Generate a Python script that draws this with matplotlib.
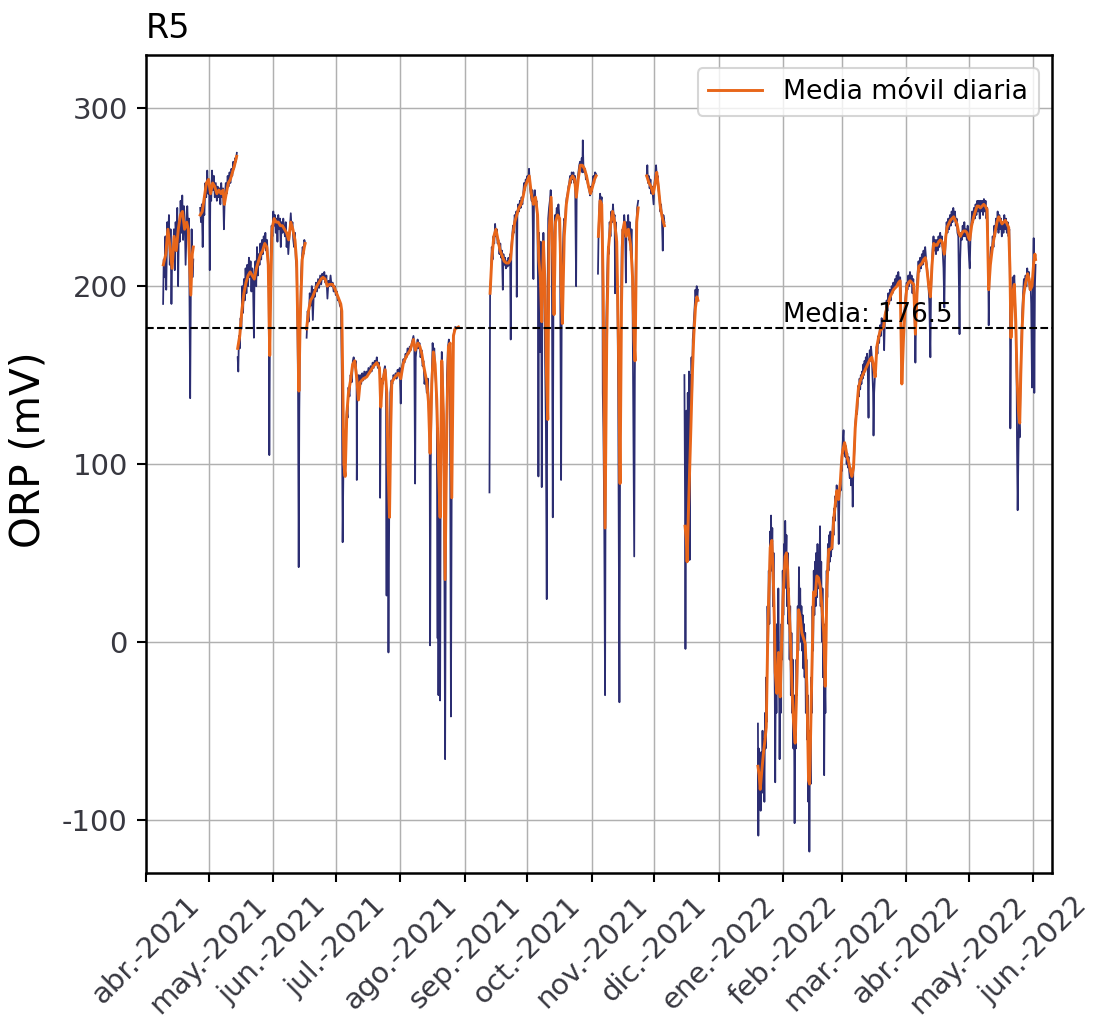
import pandas as pd
import matplotlib
matplotlib.use('Agg')
import matplotlib.pyplot as plt
import numpy as np

plt.rcParams['axes.unicode_minus'] = False

# Datos: (dias desde 2021-04-01, ORP en mV)
inicio = pd.Timestamp('2021-04-01')

raw_t1 = [(8.2, 190), (8.5, 215), (8.9, 205), (9.3, 228), (9.7, 198), (10.2, 236), (10.6, 225),
          (11.0, 240), (11.4, 212), (11.8, 232), (12.2, 190), (12.6, 220), (13.0, 214), (13.4, 232),
          (13.8, 209), (14.2, 236), (14.6, 226), (15.0, 244), (15.4, 200), (15.8, 236), (16.2, 225),
          (16.6, 248), (17.0, 230), (17.4, 251), (17.8, 226), (18.2, 245), (18.6, 238), (19.0, 212),
          (19.4, 228), (19.8, 245), (20.2, 232), (20.6, 238), (21.0, 170), (21.2, 137), (21.5, 195),
          (21.9, 232), (22.3, 205), (22.7, 215)]
raw_t2 = [(26.0, 244), (26.4, 236), (26.8, 246), (27.2, 222), (27.6, 245), (28.0, 240), (28.5, 258),
          (28.9, 250), (29.4, 265), (29.8, 252), (30.3, 260), (30.6, 209), (30.9, 255), (31.3, 248),
          (31.7, 265), (32.1, 254), (32.6, 262), (33.0, 250), (33.5, 258), (34.0, 248), (34.4, 256),
          (34.8, 250), (35.3, 255), (35.7, 246), (36.1, 258), (36.5, 250), (37.0, 255), (37.4, 232),
          (37.8, 250), (38.3, 258), (38.7, 252), (39.2, 262), (39.6, 256), (40.1, 264), (40.5, 258),
          (41.0, 266), (41.4, 262), (41.9, 270), (42.3, 266), (42.8, 272), (43.2, 270), (43.6, 275)]
raw_t3 = [(44.0, 160), (44.3, 152), (44.6, 172), (45.0, 165), (45.4, 182), (45.8, 176), (46.2, 200),
          (46.6, 185), (47.0, 204), (47.4, 192), (47.8, 210), (48.2, 196), (48.6, 212), (49.0, 200),
          (49.4, 216), (49.8, 205), (50.2, 214), (50.6, 197), (51.0, 210), (51.4, 200), (51.8, 171),
          (52.1, 208), (52.5, 214), (52.9, 200), (53.3, 222), (53.7, 206), (54.1, 218), (54.5, 212),
          (54.9, 224), (55.3, 215), (55.7, 226), (56.1, 218), (56.5, 228), (56.9, 222), (57.3, 230),
          (57.7, 220), (58.1, 226), (58.5, 214), (58.9, 200), (59.2, 105), (59.5, 175), (59.9, 220),
          (60.3, 234), (60.7, 228), (61.1, 242), (61.5, 234), (61.9, 240), (62.3, 230), (62.7, 238),
          (63.1, 225), (63.5, 240), (63.9, 232), (64.3, 238), (64.7, 222), (65.1, 236), (65.5, 230),
          (65.9, 238), (66.3, 232), (66.7, 228), (67.1, 236), (67.5, 222), (67.9, 230), (68.3, 218),
          (68.7, 226), (69.1, 235), (69.5, 241), (69.9, 232), (70.3, 236), (70.7, 226), (71.1, 222),
          (71.5, 230), (71.9, 215), (72.3, 210), (72.7, 180), (73.0, 140), (73.3, 42), (73.6, 130),
          (74.0, 178), (74.4, 205), (74.8, 215), (75.2, 222), (75.6, 218), (76.0, 226), (76.4, 224)]
raw_t4 = [(77.1, 171), (77.6, 186), (78.1, 180), (78.6, 196), (79.1, 189), (79.6, 200), (80.1, 181),
          (80.6, 198), (81.1, 194), (81.6, 202), (82.1, 197), (82.6, 204), (83.1, 199), (83.6, 206),
          (84.1, 201), (84.6, 207), (85.1, 204), (85.6, 208), (86.1, 202), (86.6, 206), (87.1, 193),
          (87.6, 203), (88.1, 200), (88.6, 206), (89.1, 200), (89.6, 202), (90.1, 197), (90.6, 200),
          (91.1, 195), (91.6, 197), (92.1, 192), (92.6, 193), (93.1, 189), (93.6, 188), (94.0, 150),
          (94.4, 56), (94.8, 100), (95.3, 118), (95.8, 112), (96.4, 130), (96.8, 126), (97.2, 143),
          (97.7, 138), (98.2, 150), (98.8, 146), (99.3, 158), (99.7, 160), (100.2, 155), (100.7, 158),
          (101.1, 148), (101.2, 91), (101.4, 140), (101.9, 150), (102.4, 144), (102.8, 150),
          (103.3, 145), (103.8, 151), (104.3, 147), (104.8, 152), (105.3, 148), (105.8, 152),
          (106.3, 150), (106.8, 154), (107.3, 151), (107.8, 155), (108.3, 152), (108.8, 157),
          (109.3, 154), (109.8, 158), (110.3, 156), (110.8, 160), (111.3, 154), (111.8, 157),
          (112.3, 150), (112.4, 81), (112.7, 135), (113.2, 148), (113.7, 145), (114.2, 152),
          (114.7, 155), (115.2, 150), (115.5, 26), (115.7, 138), (116.0, 110), (116.4, -6), (116.8, 80),
          (117.3, 140), (117.8, 147), (118.3, 145), (118.8, 150), (119.3, 148), (119.8, 151),
          (120.3, 148), (120.8, 153), (121.3, 150), (121.8, 154), (122.3, 134), (122.6, 153),
          (123.1, 156), (123.6, 159), (124.1, 157), (124.6, 162), (125.1, 160), (125.6, 165),
          (126.1, 162), (126.6, 166), (127.1, 164), (127.6, 168), (128.0, 170), (128.4, 172),
          (128.8, 168), (129.2, 89), (129.5, 160), (130.0, 166), (130.4, 170), (130.8, 165),
          (131.3, 168), (131.8, 160), (132.3, 164), (132.8, 155), (133.2, 158), (133.7, 145),
          (134.2, 150), (134.8, 140), (135.3, 148), (135.8, 130), (136.2, 110), (136.4, -2),
          (136.7, 100), (137.2, 150), (137.6, 168), (138.0, 160), (138.4, 165), (138.8, 152),
          (139.2, 145), (139.6, 130), (140.0, 2), (140.2, 120), (140.4, -30), (140.7, 90),
          (141.2, -33), (141.6, 140), (142.0, 163), (142.4, 150), (142.8, 125), (143.2, 60),
          (143.6, -66), (144.0, 80), (144.5, 150), (145.0, 166), (145.4, 170), (145.9, 160),
          (146.4, -42), (146.8, 100), (147.2, 160), (147.6, 172), (148.0, 175), (148.5, 177)]
raw_t5 = [(164.9, 84), (165.2, 196), (165.6, 205), (166.0, 222), (166.4, 215), (166.8, 228),
          (167.2, 224), (167.6, 235), (168.0, 228), (168.4, 232), (168.8, 224), (169.2, 226),
          (169.7, 218), (170.1, 224), (170.5, 216), (170.9, 220), (171.3, 198), (171.6, 218),
          (172.0, 212), (172.4, 216), (172.8, 210), (173.2, 214), (173.6, 211), (174.0, 216),
          (174.4, 212), (174.8, 218), (175.1, 170), (175.4, 222), (175.8, 228), (176.2, 234),
          (176.6, 230), (177.0, 240), (177.4, 236), (177.8, 242), (178.0, 194), (178.3, 240),
          (178.7, 246), (179.1, 242), (179.5, 248), (179.9, 244), (180.3, 250), (180.7, 246),
          (181.1, 252), (181.5, 258), (181.9, 254), (182.3, 260), (182.7, 258), (183.1, 262),
          (183.5, 259), (183.9, 266), (184.3, 256), (184.7, 252), (185.1, 248), (185.5, 254),
          (186.0, 204), (186.3, 250), (186.7, 254), (187.1, 246), (187.5, 248), (187.9, 238),
          (188.2, 200), (188.4, 93), (188.7, 230), (189.0, 210), (189.2, 163), (189.5, 225),
          (189.8, 180), (190.0, 87), (190.3, 200), (190.8, 230), (191.2, 210), (191.6, 160),
          (192.0, 120), (192.4, 24), (192.7, 180), (193.1, 238), (193.5, 244), (193.9, 248),
          (194.3, 254), (194.6, 246), (194.9, 200), (195.1, 130), (195.3, 70), (195.6, 190),
          (196.0, 230), (196.4, 240), (196.8, 236), (197.2, 244), (197.6, 240), (198.0, 246),
          (198.4, 240), (198.8, 220), (199.1, 150), (199.3, 91), (199.6, 190), (200.0, 214),
          (200.4, 230), (200.8, 238), (201.2, 236), (201.6, 246), (202.0, 250), (202.4, 252),
          (202.8, 256), (203.2, 258), (203.6, 262), (204.0, 258), (204.4, 264), (204.8, 260),
          (205.2, 264), (205.6, 258), (206.0, 262), (206.5, 200), (206.8, 256), (207.2, 260),
          (207.6, 264), (208.0, 268), (208.4, 270), (208.8, 266), (209.2, 272), (209.5, 264),
          (209.7, 282), (210.0, 268), (210.4, 264), (210.8, 266), (211.2, 260), (211.6, 262),
          (212.0, 258), (212.4, 256), (212.8, 254), (213.2, 251), (213.6, 256), (214.0, 253),
          (214.4, 258), (214.8, 262), (215.2, 258), (215.6, 264), (216.1, 263), (216.6, None),
          (217.0, 207), (217.3, 232), (217.7, 246), (218.0, 252), (218.4, 248), (218.8, 250),
          (219.1, 230), (219.3, 140), (219.6, 120), (220.0, 70), (220.4, -30), (220.7, 110),
          (221.0, 180), (221.4, 205), (221.8, 222), (222.2, 218), (222.6, 236), (223.0, 228),
          (223.4, 242), (223.8, 236), (224.2, 246), (224.6, 238), (225.0, 240), (225.2, 196),
          (225.5, 236), (225.9, 226), (226.3, 200), (226.7, 140), (227.0, 60), (227.3, -34),
          (227.6, 100), (228.0, 180), (228.4, 222), (228.8, 232), (229.2, 228), (229.6, 240),
          (230.0, 234), (230.4, 202), (230.7, 236), (231.1, 230), (231.5, 240), (231.9, 226),
          (232.3, 236), (232.7, 220), (233.1, 232), (233.5, 210), (233.7, 175), (234.0, 120),
          (234.4, 48), (234.7, 150), (235.0, 200), (235.4, 232), (235.8, 244), (236.3, 248)]
raw_t6 = [(240.4, 262), (240.7, 268), (241.0, 258), (241.4, 262), (241.8, 255), (242.2, 260),
          (242.6, 252), (243.0, 256), (243.4, 250), (243.7, 246), (244.1, 258), (244.5, 262),
          (244.9, 268), (245.3, 260), (245.7, 262), (246.1, 254), (246.5, 250), (246.9, 242),
          (247.3, 246), (247.7, 238), (248.1, 220), (248.4, 240), (248.9, 236)]
raw_t7 = [(258.5, 150), (258.8, 80), (259.0, -4), (259.2, 70), (259.5, 130), (259.8, 45),
          (260.1, 140), (260.4, 100), (260.7, 152), (261.0, 46), (261.3, 150), (261.6, 120),
          (261.9, 160), (262.2, 140), (262.5, 170), (262.8, 175), (263.1, 182), (263.5, 190),
          (263.8, 198), (264.1, 192), (264.4, 200), (264.7, 194), (265.0, 198)]
raw_t8 = [(293.8, -46), (294.0, -109), (294.2, -60), (294.5, -80), (294.8, -70), (295.1, -95),
          (295.4, -62), (295.7, -85), (296.0, -50), (296.3, -75), (296.6, -55), (296.9, -90),
          (297.2, -40), (297.5, -60), (297.8, -20), (298.1, -45), (298.4, 20), (298.7, 0),
          (299.0, 40), (299.3, 10), (299.6, 62), (300.0, 45), (300.1, 71), (300.4, 40), (300.7, 64),
          (301.0, 20), (301.3, 50), (301.6, 0), (301.9, -30), (302.1, -79), (302.4, -10),
          (302.7, -40), (303.0, 10), (303.3, -20), (303.6, 30), (303.9, -10), (304.2, -66),
          (304.5, -20), (304.8, -40), (305.1, 10), (305.4, -10), (305.7, 40), (306.0, 15),
          (306.3, 55), (306.6, 30), (306.9, 68), (307.2, 45), (307.5, 60), (307.8, 20), (308.1, 50),
          (308.4, 10), (308.7, 30), (309.0, -10), (309.3, 20), (309.6, -30), (309.9, 5),
          (310.2, -40), (310.5, -10), (310.8, -60), (311.1, -30), (311.4, -102), (311.7, -40),
          (312.0, -60), (312.3, -10), (312.6, -30), (312.9, 20), (313.2, -5), (313.5, 42),
          (313.8, 10), (314.1, 30), (314.4, 0), (314.7, 20), (315.0, -5), (315.3, 15), (315.6, -15),
          (315.9, 10), (316.2, -20), (316.5, 5), (316.8, -40), (317.1, -10), (317.4, -55),
          (317.7, -30), (318.0, -90), (318.3, -60), (318.5, -118), (318.8, -50), (319.1, -80),
          (319.4, -20), (319.7, -40), (320.0, 20), (320.3, -5), (320.6, 40), (320.9, 15),
          (321.2, 45), (321.5, 20), (321.8, 50), (322.1, 25), (322.4, 55), (322.7, 30), (323.0, 50),
          (323.3, 35), (323.6, 65), (323.9, 20), (324.2, 45), (324.5, 0), (324.8, 30), (325.1, -20),
          (325.4, 10), (325.6, -75), (325.9, -20), (326.2, -40), (326.5, 20), (326.8, 40),
          (327.1, 25), (327.4, 55), (327.7, 40), (328.0, 60), (328.3, 45), (328.6, 62), (328.9, 48),
          (329.2, 58), (329.5, 52), (329.8, 70), (330.1, 60), (330.4, 75), (330.7, 68), (331.0, 82),
          (331.3, 76), (331.6, 88), (331.9, 80), (332.2, 85), (332.6, 55), (332.9, 80), (333.2, 90),
          (333.5, 85), (333.8, 100), (334.1, 96), (334.4, 110), (334.9, 119), (335.2, 106),
          (335.5, 112), (335.8, 104), (336.1, 110), (336.4, 100), (336.7, 106), (337.0, 98),
          (337.3, 104), (337.6, 96), (337.9, 92), (338.2, 98), (338.5, 88), (338.8, 95), (339.1, 90),
          (339.3, 76), (339.6, 96), (339.9, 102), (340.2, 110), (340.5, 122), (340.8, 126),
          (341.1, 130), (341.4, 128), (341.7, 134), (342.0, 144), (342.3, 138), (342.6, 148),
          (342.9, 142), (343.2, 150), (343.5, 145), (343.8, 152), (344.1, 148), (344.4, 156),
          (344.7, 150), (345.0, 158), (345.3, 152), (345.6, 160), (345.9, 154), (346.2, 162),
          (346.5, 156), (346.9, 126), (347.2, 158), (347.5, 164), (347.8, 158), (348.1, 166),
          (348.5, 160), (348.8, 150), (349.1, 140), (349.3, 116), (349.6, 140), (350.0, 150),
          (350.4, 158), (350.8, 166), (351.2, 162), (351.6, 172), (352.0, 168), (352.4, 178),
          (352.8, 172), (353.2, 182), (353.6, 176), (354.0, 180), (354.4, 164), (354.8, 184),
          (355.2, 186), (355.6, 192), (356.0, 186), (356.4, 196), (356.8, 190), (357.2, 198),
          (357.6, 192), (358.0, 200), (358.4, 196), (358.8, 202), (359.2, 198), (359.6, 204),
          (360.0, 200), (360.4, 206), (360.8, 200), (361.2, 208), (361.6, 202), (362.1, 205),
          (362.5, 196), (362.8, 146), (363.2, 160), (363.6, 172), (364.0, 182), (364.4, 190),
          (364.8, 196), (365.2, 202), (365.6, 198), (366.0, 206), (366.4, 200), (366.8, 208),
          (367.2, 202), (367.6, 206), (368.0, 196), (368.4, 204), (368.8, 190), (369.2, 175),
          (369.4, 157), (369.7, 180), (370.1, 200), (370.5, 208), (370.9, 214), (371.3, 208),
          (371.7, 216), (372.1, 210), (372.5, 218), (372.9, 212), (373.3, 220), (373.7, 214),
          (374.1, 222), (374.5, 216), (374.9, 212), (375.3, 206), (375.7, 200), (376.1, 190),
          (376.6, 160), (376.9, 196), (377.3, 212), (377.7, 222), (378.1, 228), (378.5, 220),
          (378.9, 226), (379.3, 218), (379.7, 226), (380.1, 220), (380.5, 228), (380.9, 222),
          (381.3, 230), (381.7, 224), (382.1, 228), (382.5, 220), (382.9, 210), (383.3, 188),
          (383.6, 215), (384.0, 228), (384.4, 236), (384.8, 230), (385.2, 238), (385.6, 232),
          (386.0, 240), (386.4, 234), (386.8, 242), (387.2, 236), (387.6, 244), (388.0, 238),
          (388.4, 242), (388.8, 234), (389.2, 238), (389.6, 230), (390.0, 228), (390.3, 200),
          (390.6, 173), (390.9, 215), (391.3, 230), (391.7, 226), (392.1, 234), (392.5, 228),
          (392.9, 236), (393.3, 228), (393.7, 232), (394.1, 226), (394.5, 234), (394.9, 222),
          (395.2, 215), (395.5, 210), (395.9, 230), (396.3, 236), (396.7, 242), (397.1, 236),
          (397.5, 244), (397.9, 238), (398.3, 246), (398.7, 240), (399.1, 248), (399.5, 242),
          (399.9, 248), (400.3, 238), (400.7, 248), (401.1, 242), (401.5, 248), (401.9, 240),
          (402.3, 249), (402.7, 242), (403.1, 248), (403.5, 238), (403.9, 244), (404.3, 225),
          (404.6, 178), (404.9, 205), (405.3, 215), (405.7, 222), (406.1, 218), (406.5, 228),
          (406.9, 222), (407.3, 234), (407.7, 228), (408.1, 238), (408.5, 232), (408.9, 242),
          (409.3, 230), (409.7, 240), (410.1, 232), (410.5, 238), (410.9, 228), (411.3, 236),
          (411.7, 230), (412.1, 240), (412.5, 232), (412.9, 238), (413.3, 230), (413.7, 236),
          (414.1, 228), (414.5, 232), (414.8, 200), (415.0, 120), (415.3, 170), (415.7, 195),
          (416.1, 205), (416.5, 200), (416.9, 206), (417.3, 190), (417.7, 170), (418.0, 150),
          (418.2, 110), (418.5, 74), (418.8, 100), (419.1, 125), (419.5, 115), (419.9, 150),
          (420.3, 170), (420.7, 185), (421.1, 196), (421.5, 204), (421.9, 198), (422.3, 206),
          (422.7, 200), (423.1, 210), (423.5, 204), (423.9, 208), (424.3, 198), (424.7, 202),
          (425.0, 190), (425.4, 143), (425.7, 190), (426.0, 210), (426.2, 227), (426.5, 140),
          (426.8, 200), (427.1, 212)]

media_t1 = [(8.3, 212), (9.5, 218), (10.5, 232), (11.5, 222), (12.5, 210), (13.5, 228), (14.5, 220),
            (15.5, 232), (16.5, 240), (17.5, 242), (18.5, 232), (19.5, 236), (20.3, 232), (21.0, 210),
            (21.5, 195), (22.2, 218), (22.7, 222)]
media_t2 = [(26.0, 240), (27.0, 242), (28.0, 250), (29.0, 258), (30.0, 260), (31.0, 252), (32.0, 258),
            (33.0, 256), (34.0, 252), (35.0, 254), (36.0, 252), (37.0, 254), (37.6, 246), (38.5, 252),
            (39.5, 258), (40.5, 260), (41.5, 264), (42.5, 268), (43.5, 273)]
media_t3 = [(44.0, 165), (45.0, 172), (46.0, 186), (47.0, 196), (48.0, 202), (49.0, 206), (50.0, 208),
            (51.0, 206), (52.0, 204), (53.0, 210), (54.0, 214), (55.0, 218), (56.0, 220), (57.0, 224),
            (58.0, 222), (58.7, 212), (59.4, 161), (59.9, 200), (60.5, 232), (61.5, 238), (62.5, 236),
            (63.5, 236), (64.5, 234), (65.5, 234), (66.5, 232), (67.5, 230), (68.5, 226), (69.5, 236),
            (70.5, 232), (71.5, 226), (72.3, 214), (73.0, 170), (73.4, 141), (74.0, 180), (75.0, 215),
            (76.0, 222), (76.4, 224)]
media_t4 = [(77.1, 176), (78.0, 186), (79.0, 192), (80.0, 194), (81.0, 197), (82.0, 200), (83.0, 202),
            (84.0, 204), (85.0, 205), (86.0, 204), (87.0, 200), (88.0, 201), (89.5, 201), (90.5, 199),
            (91.5, 196), (92.5, 193), (93.5, 190), (94.0, 186), (94.4, 150), (95.0, 100), (95.6, 93),
            (96.4, 128), (97.2, 140), (98.2, 147), (99.2, 156), (100.2, 158), (101.2, 148),
            (102.0, 136), (102.8, 146), (104.4, 148), (106.0, 149), (107.6, 152), (109.2, 155),
            (110.8, 157), (112.1, 154), (112.7, 132), (113.5, 146), (114.8, 153), (115.6, 140),
            (116.2, 100), (116.9, 70), (117.5, 120), (118.0, 146), (119.6, 149), (121.2, 151),
            (122.3, 148), (123.6, 157), (125.2, 161), (126.8, 164), (128.4, 170), (129.3, 164),
            (130.5, 168), (131.5, 166), (132.4, 162), (133.2, 156), (134.8, 146), (135.6, 135),
            (136.4, 106), (137.2, 145), (138.0, 163), (138.8, 156), (139.6, 136), (140.4, 100),
            (141.2, 70), (142.0, 158), (142.8, 128), (143.6, 35), (144.4, 120), (145.2, 166),
            (146.0, 168), (146.8, 81), (147.6, 172), (148.4, 176), (150.0, 177)]
media_t5 = [(165.2, 196), (166.0, 215), (167.0, 228), (168.0, 232), (169.0, 226), (170.0, 220),
            (171.0, 217), (172.0, 214), (173.0, 213), (174.0, 213), (175.0, 215), (176.0, 228),
            (177.0, 236), (178.0, 240), (179.0, 244), (180.0, 246), (181.0, 250), (182.0, 256),
            (183.0, 259), (184.0, 262), (185.0, 252), (186.0, 246), (187.0, 250), (188.0, 240),
            (188.6, 215), (189.3, 205), (190.0, 180), (190.8, 225), (191.6, 200), (192.3, 150),
            (192.9, 125), (193.5, 230), (194.5, 250), (195.3, 215), (195.9, 184), (196.6, 236),
            (197.6, 240), (198.6, 238), (199.3, 200), (199.9, 179), (200.8, 228), (201.8, 246),
            (202.8, 254), (203.8, 260), (204.8, 262), (205.8, 260), (206.6, 250), (207.5, 260),
            (208.5, 268), (209.5, 268), (210.5, 266), (211.5, 262), (212.5, 256), (213.4, 252),
            (214.4, 256), (215.3, 260), (216.1, 262), (216.6, None), (217.2, 228), (218.0, 248),
            (218.8, 246), (219.5, 200), (220.4, 64), (221.2, 170), (222.0, 221), (223.0, 234),
            (224.0, 242), (225.0, 236), (226.0, 225), (226.8, 170), (227.6, 89), (228.3, 190),
            (228.9, 231), (229.7, 236), (230.5, 228), (231.6, 232), (232.8, 222), (233.6, 205),
            (234.3, 170), (234.8, 158), (235.6, 236), (236.3, 244)]
media_t6 = [(240.4, 262), (241.5, 258), (242.5, 256), (243.5, 252), (244.5, 258), (245.2, 264),
            (246.0, 256), (247.0, 244), (248.0, 238), (248.9, 234)]
media_t7 = [(258.8, 65), (259.4, 58), (259.8, 45), (260.4, 72), (261.0, 95), (261.6, 120),
            (262.3, 150), (263.0, 172), (263.8, 188), (264.5, 194), (265.0, 192)]
media_t8 = [(293.8, -70), (294.4, -75), (294.9, -83), (295.7, -72), (296.5, -62), (297.2, -55),
            (297.8, -48), (298.4, -5), (298.9, 22), (299.4, 40), (299.7, 53), (300.5, 57), (301.3, 31),
            (301.8, 5), (302.1, -17), (302.9, -29), (303.7, -6), (304.2, -20), (304.5, -31), (305.2, 0),
            (305.8, 22), (306.4, 38), (306.9, 48), (307.5, 50), (308.1, 40), (308.7, 20), (309.3, 5),
            (310.1, -25), (310.9, -45), (311.7, -57), (312.5, -21), (313.3, 18), (314.1, 14),
            (314.9, 5), (315.7, 2), (316.5, -1), (317.3, -25), (318.1, -78), (318.6, -80),
            (318.9, -62), (319.7, -17), (320.5, 28), (321.3, 26), (322.1, 37), (322.9, 36),
            (323.7, 31), (324.5, 20), (325.4, 5), (326.1, -25), (326.5, 0), (326.9, 31), (327.8, 52),
            (328.5, 52), (329.3, 53), (330.2, 69), (331.0, 78), (331.7, 85), (332.5, 80), (333.3, 89),
            (334.1, 104), (334.6, 108), (335.4, 112), (335.8, 110), (336.6, 104), (337.4, 101),
            (338.2, 96), (338.9, 93), (339.7, 98), (340.5, 120), (341.3, 132), (342.1, 143),
            (343.0, 147), (343.7, 149), (344.5, 151), (345.3, 153), (346.1, 155), (346.9, 157),
            (347.7, 159), (348.5, 160), (349.3, 155), (350.1, 149), (350.9, 166), (351.7, 171),
            (352.5, 175), (353.3, 176), (354.1, 177), (354.9, 184), (355.7, 188), (356.5, 191),
            (357.3, 194), (358.1, 196), (358.9, 198), (359.7, 199), (360.5, 200), (361.3, 202),
            (362.1, 203), (362.9, 145), (363.7, 171), (364.5, 188), (365.3, 200), (366.1, 202),
            (366.9, 203), (367.7, 202), (368.6, 201), (369.4, 173), (370.2, 196), (371.0, 211),
            (371.8, 212), (372.6, 213), (373.4, 215), (374.2, 216), (375.0, 209), (375.8, 200),
            (376.6, 194), (377.4, 212), (378.2, 224), (379.0, 223), (379.8, 223), (380.6, 225),
            (381.4, 226), (382.2, 225), (383.3, 218), (384.0, 228), (384.6, 233), (385.4, 235),
            (386.2, 237), (387.0, 238), (387.8, 239), (388.6, 237), (389.4, 235), (390.2, 230),
            (391.0, 228), (391.8, 230), (392.6, 231), (393.4, 231), (394.2, 230), (395.0, 227),
            (395.5, 226), (396.4, 234), (397.4, 239), (398.2, 242), (399.0, 245), (399.8, 245),
            (400.6, 244), (401.4, 245), (402.2, 246), (403.0, 245), (403.8, 243), (404.6, 198),
            (405.4, 212), (406.2, 220), (407.0, 226), (407.8, 231), (408.6, 236), (409.4, 239),
            (410.2, 237), (411.0, 235), (411.8, 236), (412.6, 237), (413.4, 235), (414.2, 233),
            (414.8, 210), (415.3, 171), (416.1, 196), (416.9, 201), (417.6, 180), (418.2, 149),
            (418.9, 130), (419.5, 123), (420.0, 150), (420.6, 175), (421.4, 195), (422.2, 201),
            (423.3, 207), (424.0, 204), (424.6, 198), (425.4, 200), (426.2, 213), (426.8, 218),
            (427.1, 215)]

media_orp = 176.5
meses = ['abr.-2021', 'may.-2021', 'jun.-2021', 'jul.-2021', 'ago.-2021', 'sep.-2021',
         'oct.-2021', 'nov.-2021', 'dic.-2021', 'ene.-2022', 'feb.-2022', 'mar.-2022',
         'abr.-2022', 'may.-2022', 'jun.-2022']


def unir(tramos):
    # junta los tramos dejando un hueco (NaN) entre ellos
    dias, vals = [], []
    for t in tramos:
        for d, v in t:
            dias.append(d)
            vals.append(np.nan if v is None else v)
        dias.append(t[-1][0] + 0.1)
        vals.append(np.nan)
    fechas = inicio + pd.to_timedelta(dias, unit='D')
    return fechas, np.array(vals, dtype=float)


f_raw, v_raw = unir([raw_t1, raw_t2, raw_t3, raw_t4, raw_t5, raw_t6, raw_t7, raw_t8])
f_med, v_med = unir([media_t1, media_t2, media_t3, media_t4, media_t5, media_t6, media_t7, media_t8])

fig = plt.figure(figsize=(1093 / 150, 1024 / 150), dpi=150)
ax = fig.add_axes([0.1336, 0.1475, 0.8289, 0.7988])

ax.plot(f_raw, v_raw, color='#2b2d72', lw=0.85)
ax.plot(f_med, v_med, color='#e8661a', lw=1.4, label='Media móvil diaria')
ax.axhline(media_orp, color='black', ls='--', lw=1.0)
ax.text(pd.Timestamp('2022-02-01'), media_orp, f'Media: {media_orp}', fontsize=12.5, va='bottom')

ticks_x = pd.date_range('2021-04-01', '2022-06-01', freq='MS')
ax.set_xticks(ticks_x)
ax.set_xticklabels(meses, rotation=45)
ax.set_xlim(pd.Timestamp('2021-04-01'), pd.Timestamp('2022-06-10'))
ax.set_ylim(-130, 330)
ax.set_yticks([-100, 0, 100, 200, 300])

ax.tick_params(labelsize=14, labelcolor='#383840', length=4.3, width=1.0, pad=4.5)
for s in ax.spines.values():
    s.set_linewidth(1.2)
ax.grid(True, color='#b0b0b0', lw=0.7)

ax.set_ylabel('ORP (mV)', fontsize=19.5)
ax.yaxis.set_label_coords(-0.108, 0.518)
ax.set_title('R5', loc='left', fontsize=16, pad=8)
ax.legend(loc='upper right', fontsize=12.8)

fig.savefig('out.png', dpi=150)
